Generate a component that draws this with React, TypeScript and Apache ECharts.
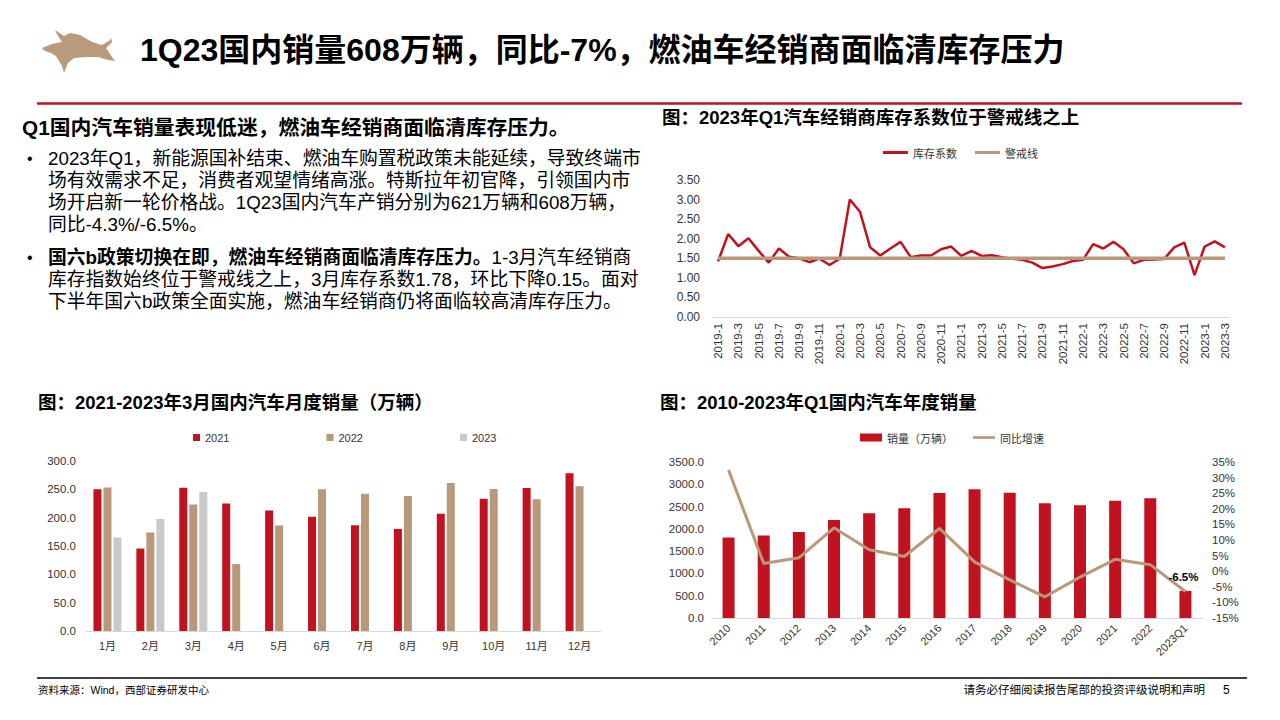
import React, { useEffect, useRef } from "react";
import * as echarts from "echarts";

// ---------- data ----------
const inventoryMonths = [
  "2019-1", "2019-2", "2019-3", "2019-4", "2019-5", "2019-6", "2019-7", "2019-8", "2019-9", "2019-10", "2019-11", "2019-12",
  "2020-1", "2020-2", "2020-3", "2020-4", "2020-5", "2020-6", "2020-7", "2020-8", "2020-9", "2020-10", "2020-11", "2020-12",
  "2021-1", "2021-2", "2021-3", "2021-4", "2021-5", "2021-6", "2021-7", "2021-8", "2021-9", "2021-10", "2021-11", "2021-12",
  "2022-1", "2022-2", "2022-3", "2022-4", "2022-5", "2022-6", "2022-7", "2022-8", "2022-9", "2022-10", "2022-11", "2022-12",
  "2023-1", "2023-2", "2023-3",
];
const inventoryValues = [
  1.42, 2.12, 1.81, 2.01, 1.69, 1.39, 1.75, 1.54, 1.5, 1.4, 1.49, 1.33,
  1.49, 3.0, 2.69, 1.78, 1.57, 1.75, 1.92, 1.53, 1.57, 1.57, 1.73, 1.8,
  1.56, 1.69, 1.56, 1.58, 1.53, 1.49, 1.46, 1.39, 1.25, 1.29, 1.35, 1.43,
  1.46, 1.86, 1.75, 1.92, 1.73, 1.37, 1.46, 1.47, 1.48, 1.78, 1.9, 1.07,
  1.8, 1.93, 1.78,
];
const warningValues = [
  1.5, 1.5, 1.5, 1.5, 1.5, 1.5, 1.5, 1.5, 1.5, 1.5, 1.5, 1.5,
  1.5, 1.5, 1.5, 1.5, 1.5, 1.5, 1.5, 1.5, 1.5, 1.5, 1.5, 1.5,
  1.5, 1.5, 1.5, 1.5, 1.5, 1.5, 1.5, 1.5, 1.5, 1.5, 1.5, 1.5,
  1.5, 1.5, 1.5, 1.5, 1.5, 1.5, 1.5, 1.5, 1.5, 1.5, 1.5, 1.5,
  1.5, 1.5, 1.5,
];

const monthLabels = ["1月", "2月", "3月", "4月", "5月", "6月", "7月", "8月", "9月", "10月", "11月", "12月"];
const sales2021 = [250.3, 145.5, 252.6, 225.2, 212.8, 201.5, 186.4, 179.9, 207.1, 233.2, 252.2, 278.6];
const sales2022 = [253.1, 173.7, 223.4, 118.1, 186.2, 250.2, 242.0, 238.3, 261.0, 250.6, 232.7, 255.6];
const sales2023 = [164.9, 197.6, 245.1, null, null, null, null, null, null, null, null, null];

const yearLabels = ["2010", "2011", "2012", "2013", "2014", "2015", "2016", "2017", "2018", "2019", "2020", "2021", "2022", "2023Q1"];
const annualSales = [1806, 1851, 1931, 2198, 2349, 2460, 2803, 2888, 2808, 2577, 2531, 2628, 2686, 608];
const annualGrowth = [32.4, 2.5, 4.3, 13.9, 6.9, 4.7, 13.7, 3.0, -2.8, -8.2, -1.9, 3.8, 2.1, -6.5];

// ---------- styles ----------
const RED = "#C1121F";
const TAN = "#B9987A";
const GRAY = "#C9C9C9";
const FONT = "'Liberation Sans', 'Noto Sans CJK SC', sans-serif";
const CJK = "'Noto Sans CJK SC', sans-serif";

const BULL =
  "M13,0 C15,5 18,9 20,12 L10,14 L0,18 L3,21 L9,23 L14,26 L20,36 L22,43 L26,33 L32,28 L45,27 L56,27 L66,30 L73,31 L68,24 L64,18 L70,12 L69,8 L67,11 L60,15 L50,12 L38,5 L28,3 L22,6 C19,4 16,2 13,0 Z";

let registered = false;

function txt(text: string, x: number, y: number, size: number, bold = false, extra: any = {}) {
  return {
    type: "text",
    x,
    y,
    silent: true,
    style: {
      text,
      fontSize: size,
      fontWeight: bold ? "bold" : "normal",
      fontFamily: FONT,
      fill: "#000",
      verticalAlign: "middle",
      textAlign: "left",
      ...extra,
    },
  };
}

export default function App() {
  const ref = useRef<HTMLDivElement>(null);

  useEffect(() => {
    if (!ref.current) return;
    if (!registered) {
      echarts.graphic.registerShape("logo", echarts.graphic.extendPath(BULL, {}));
      registered = true;
    }
    const chart = echarts.init(ref.current, null, { renderer: "svg" });
    const axisLabelBase = { color: "#333", fontFamily: FONT };
    const lastIdx = annualGrowth.length - 1;

    const option: any = {
      animation: false,
      backgroundColor: "#fff",
      grid: [
        { left: 713, top: 180, width: 517, height: 137 },
        { left: 86, top: 461, width: 515, height: 170 },
        { left: 711, top: 462, width: 492, height: 156 },
      ],
      legend: [
        {
          left: 878,
          top: 142,
          itemWidth: 25,
          itemHeight: 12,
          itemGap: 18,
          textStyle: { fontSize: 11, fontFamily: CJK, color: "#333" },
          data: [
            { name: "库存系数", icon: "path://M0,0 L25,0 L25,3 L0,3 Z" },
            { name: "警戒线", icon: "path://M0,0 L25,0 L25,3 L0,3 Z" },
          ],
        },
        {
          left: 188,
          top: 427,
          itemWidth: 7,
          itemHeight: 7,
          itemGap: 97,
          icon: "rect",
          textStyle: { fontSize: 11, fontFamily: FONT, color: "#333" },
          data: ["2021", "2022", "2023"],
        },
        {
          left: 855,
          top: 427,
          itemWidth: 22,
          itemHeight: 8,
          itemGap: 20,
          textStyle: { fontSize: 11, fontFamily: CJK, color: "#333" },
          data: [
            { name: "销量（万辆）", icon: "rect" },
            { name: "同比增速", icon: "path://M0,0 L25,0 L25,3 L0,3 Z" },
          ],
        },
      ],
      xAxis: [
        {
          gridIndex: 0,
          type: "category",
          data: inventoryMonths,
          boundaryGap: true,
          axisLine: { lineStyle: { color: "#D9D9D9" } },
          axisTick: { show: false },
          axisLabel: { ...axisLabelBase, fontSize: 11.5, rotate: 90, interval: 1, margin: 6 },
        },
        {
          gridIndex: 1,
          type: "category",
          data: monthLabels,
          axisLine: { lineStyle: { color: "#D9D9D9" } },
          axisTick: { show: false },
          axisLabel: { ...axisLabelBase, fontSize: 11, margin: 9 },
        },
        {
          gridIndex: 2,
          type: "category",
          data: yearLabels,
          axisLine: { lineStyle: { color: "#D9D9D9" } },
          axisTick: { show: false },
          axisLabel: { ...axisLabelBase, fontSize: 11, rotate: 45, margin: 8 },
        },
      ],
      yAxis: [
        {
          gridIndex: 0,
          type: "value",
          min: 0,
          max: 3.5,
          interval: 0.5,
          splitLine: { show: false },
          axisLine: { show: false },
          axisTick: { show: false },
          axisLabel: { ...axisLabelBase, fontSize: 12, margin: 13, formatter: (v: number) => v.toFixed(2) },
        },
        {
          gridIndex: 1,
          type: "value",
          min: 0,
          max: 300,
          interval: 50,
          splitLine: { show: false },
          axisLine: { show: false },
          axisTick: { show: false },
          axisLabel: { ...axisLabelBase, fontSize: 11.5, margin: 10, formatter: (v: number) => v.toFixed(1) },
        },
        {
          gridIndex: 2,
          type: "value",
          min: 0,
          max: 3500,
          interval: 500,
          splitLine: { show: false },
          axisLine: { show: false },
          axisTick: { show: false },
          axisLabel: { ...axisLabelBase, fontSize: 11.5, margin: 7, formatter: (v: number) => v.toFixed(1) },
        },
        {
          gridIndex: 2,
          type: "value",
          position: "right",
          min: -15,
          max: 35,
          interval: 5,
          splitLine: { show: false },
          axisLine: { show: false },
          axisTick: { show: false },
          axisLabel: { ...axisLabelBase, fontSize: 11.5, margin: 9, formatter: (v: number) => v + "%" },
        },
      ],
      series: [
        {
          name: "库存系数",
          type: "line",
          xAxisIndex: 0,
          yAxisIndex: 0,
          data: inventoryValues,
          symbol: "none",
          lineStyle: { color: RED, width: 2.5 },
          itemStyle: { color: RED },
        },
        {
          name: "警戒线",
          type: "line",
          xAxisIndex: 0,
          yAxisIndex: 0,
          data: warningValues,
          symbol: "none",
          lineStyle: { color: TAN, width: 3.5 },
          itemStyle: { color: TAN },
        },
        {
          name: "2021",
          type: "bar",
          xAxisIndex: 1,
          yAxisIndex: 1,
          data: sales2021,
          barWidth: 8,
          barGap: "25%",
          itemStyle: { color: RED },
        },
        {
          name: "2022",
          type: "bar",
          xAxisIndex: 1,
          yAxisIndex: 1,
          data: sales2022,
          barWidth: 8,
          barGap: "25%",
          itemStyle: { color: TAN },
        },
        {
          name: "2023",
          type: "bar",
          xAxisIndex: 1,
          yAxisIndex: 1,
          data: sales2023,
          barWidth: 8,
          barGap: "25%",
          itemStyle: { color: GRAY },
        },
        {
          name: "销量（万辆）",
          type: "bar",
          xAxisIndex: 2,
          yAxisIndex: 2,
          data: annualSales,
          barWidth: 12,
          itemStyle: { color: RED },
        },
        {
          name: "同比增速",
          type: "line",
          xAxisIndex: 2,
          yAxisIndex: 3,
          data: annualGrowth,
          symbol: "circle",
          symbolSize: 0.01,
          showSymbol: true,
          label: {
            show: true,
            position: "top",
            distance: 9,
            offset: [-2, 0],
            formatter: (p: any) => (p.dataIndex === lastIdx ? p.value.toFixed(1) + "%" : ""),
            fontSize: 11.5,
            fontWeight: "bold",
            color: "#000",
            fontFamily: FONT,
          },
          lineStyle: { color: TAN, width: 3 },
          itemStyle: { color: TAN },
        },
      ],
      graphic: [
        { type: "logo", x: 42, y: 30, scaleX: 1, scaleY: 1, silent: true, style: { fill: "#B89A7C" } },
        txt("1Q23国内销量608万辆，同比-7%，燃油车经销商面临清库存压力", 140, 50, 32, true),
        { type: "line", silent: true, shape: { x1: 37, y1: 103.5, x2: 1242, y2: 103.5 }, style: { stroke: RED, lineWidth: 2.5 } },
        txt("Q1国内汽车销量表现低迷，燃油车经销商面临清库存压力。", 22, 127, 20.8, true),
        txt("•", 27, 158, 16),
        txt("2023年Q1，新能源国补结束、燃油车购置税政策未能延续，导致终端市", 48, 158, 18.8),
        txt("场有效需求不足，消费者观望情绪高涨。特斯拉年初官降，引领国内市", 48, 180, 18.8),
        txt("场开启新一轮价格战。1Q23国内汽车产销分别为621万辆和608万辆，", 48, 202, 18.8),
        txt("同比-4.3%/-6.5%。", 48, 224, 18.8),
        txt("•", 27, 257, 16),
        {
          type: "text",
          x: 48,
          y: 257,
          silent: true,
          style: {
            text: "{b|国六b政策切换在即，燃油车经销商面临清库存压力。}{n|1-3月汽车经销商}",
            verticalAlign: "middle",
            fill: "#000",
            rich: {
              b: { fontSize: 18.8, fontWeight: "bold", fontFamily: FONT, fill: "#000" },
              n: { fontSize: 18.8, fontWeight: "normal", fontFamily: FONT, fill: "#000" },
            },
          },
        },
        txt("库存指数始终位于警戒线之上，3月库存系数1.78，环比下降0.15。面对", 48, 279, 18.8),
        txt("下半年国六b政策全面实施，燃油车经销商仍将面临较高清库存压力。", 48, 301, 18.8),
        txt("图：2023年Q1汽车经销商库存系数位于警戒线之上", 662, 117, 18.5, true),
        txt("图：2021-2023年3月国内汽车月度销量（万辆）", 38, 402, 18.5, true),
        txt("图：2010-2023年Q1国内汽车年度销量", 660, 402, 18.5, true),
        { type: "line", silent: true, shape: { x1: 37, y1: 678, x2: 1247, y2: 678 }, style: { stroke: "#000", lineWidth: 1.5 } },
        txt("资料来源：Wind，西部证券研发中心", 38, 690, 10.5),
        txt("请务必仔细阅读报告尾部的投资评级说明和声明", 1205, 690, 11.5, false, { textAlign: "right" }),
        txt("5", 1223, 690, 12),
      ],
    };

    chart.setOption(option);
    return () => chart.dispose();
  }, []);

  return (
    <div
      ref={ref}
      style={{ position: "absolute", left: 0, top: 0, width: 1280, height: 720, background: "#fff" }}
    />
  );
}
